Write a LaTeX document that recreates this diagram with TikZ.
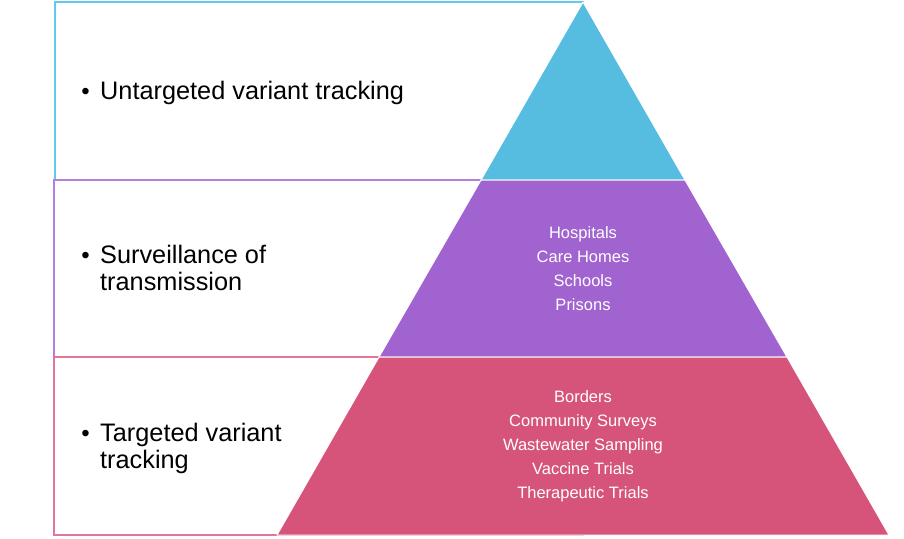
\documentclass[tikz,border=0pt]{standalone}
\usepackage{fontspec}
\setmainfont{Liberation Sans}
\usetikzlibrary{positioning}

\definecolor{tipblue}{HTML}{56BCE0}
\definecolor{midpurple}{HTML}{A163CF}
\definecolor{basepink}{HTML}{D65479}
\definecolor{lineblue}{HTML}{62C8EE}
\definecolor{linepurple}{HTML}{B27EE0}
\definecolor{linepink}{HTML}{E0779A}

\begin{document}
\begin{tikzpicture}[x=1pt,y=-1pt,
  frame/.style={line width=1.4pt},
  band/.style={draw=white,line width=1pt,line join=round},
  level/.style={anchor=base west,align=left,inner sep=0pt,font=\fontsize{25.3}{27}\selectfont},
  dot/.style={anchor=base east,inner sep=0pt,font=\fontsize{24}{27}\selectfont},
  items/.style={align=center,text=white,inner sep=0pt,font=\fontsize{16.5}{24}\selectfont}]
\useasboundingbox (0,0) rectangle (904,538);

% frames behind the pyramid
\draw[frame,draw=lineblue] (55,2) rectangle (583,180);
\draw[frame,draw=linepurple] (54,180) rectangle (583,357);
\draw[frame,draw=linepink] (54,357) rectangle (583,535);

% pyramid
\coordinate (apex) at (583,2);
\coordinate (a1) at (481,180);
\coordinate (b1) at (685,180);
\coordinate (a2) at (379,357);
\coordinate (b2) at (787,357);
\coordinate (a3) at (277,535);
\coordinate (b3) at (889,535);
\filldraw[band,fill=tipblue] (apex) -- (b1) -- (a1) -- cycle;
\filldraw[band,fill=midpurple] (a1) -- (b1) -- (b2) -- (a2) -- cycle;
\filldraw[band,fill=basepink] (a2) -- (b2) -- (b3) -- (a3) -- cycle;

% left labels (base = last line)
\node[level] (untargeted) at (100,99) {Untargeted variant tracking};
\node[level] (transmission) at (100,290) {Surveillance of\\transmission};
\node[level] (targeted) at (100,468) {Targeted variant\\tracking};
\node[dot] (d1) at (90,99) {\textbullet};
\node[dot] (d2) at (90,263) {\textbullet};
\node[dot] (d3) at (90,441) {\textbullet};

% settings inside the pyramid
\node[items] (settings) at (583,268.5) {Hospitals\\Care Homes\\Schools\\Prisons};
\node[items] (sampling) at (583,446.5) {Borders\\Community Surveys\\Wastewater Sampling\\Vaccine Trials\\Therapeutic Trials};
\end{tikzpicture}
\end{document}
